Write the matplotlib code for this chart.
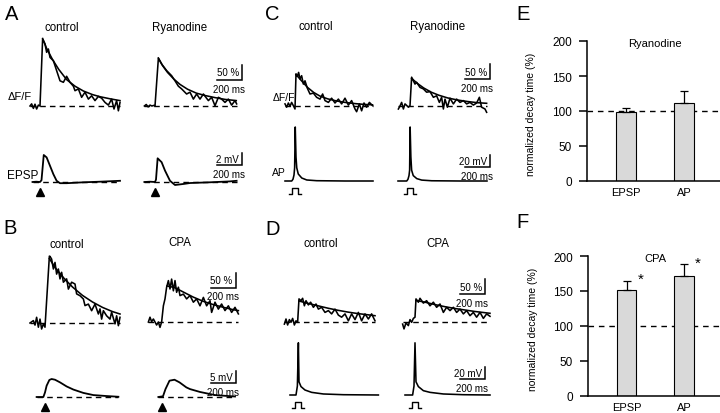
import numpy as np
import matplotlib
matplotlib.use('Agg')
import matplotlib.pyplot as plt

plt.rcParams['font.family'] = ['Liberation Sans', 'DejaVu Sans']

W, H = 720, 414
MS_PER_PX = 8.0
T_MIN, T_MAX = -130, 720

# ---- A: EPSP-evoked transients, control vs ryanodine (dF/F in %, time in ms)
a_ctrl_t = [-80, -67, -53, -40, -27, -13, 0, 21, 40, 53, 67, 80, 107, 133, 160, 187, 213, 240,
            267, 280, 307, 333, 360, 387, 413, 440, 467, 493, 520, 547, 573, 592, 613, 627, 640]
a_ctrl_f = [0, 7, -8, 6, -10, 3, 0, 223, 207, 179, 190, 162, 151, 118, 84, 79, 99, 79,
            66, 51, 57, 29, 46, 23, 34, 18, 32, 26, 12, 3, 23, -10, 18, -16, 12]
a_ctrl_fit_t = [21, 53, 100, 150, 213, 280, 347, 420, 480, 560, 640]
a_ctrl_fit_f = [225, 192, 155, 122, 88, 66, 50, 38, 31, 24, 18]
a_ryan_t = [-85, -70, -55, -40, -25, -10, 0, 27, 53, 93, 133, 160, 187, 213, 253,
            280, 307, 333, 360, 387, 427, 453, 480, 507, 533, 560, 587, 613, 640, 653]
a_ryan_f = [0, 5, -3, 3, 0, 2, 0, 159, 140, 118, 101, 84, 66, 57, 40,
            46, 23, 40, 23, 40, 18, 29, 1, 29, 23, 12, 23, 3, 18, 7]
a_ryan_fit_t = [27, 60, 100, 150, 200, 260, 330, 400, 480, 560, 650]
a_ryan_fit_f = [160, 135, 112, 90, 72, 56, 43, 35, 28, 22, 18]
# EPSPs (mV)
a_ctrl_v_t = [-60, -30, 0, 12, 30, 53, 80, 107, 133, 160, 213, 347, 480, 640]
a_ctrl_v = [0, 0.05, 0, 0.3, 4.5, 4.1, 2.7, 1.3, 0.2, -0.2, -0.2, -0.05, 0.05, 0.2]
a_ryan_v_t = [-85, -40, 0, 8, 21, 53, 80, 120, 160, 227, 280, 440, 600, 653]
a_ryan_v = [0, 0.05, 0, 0.4, 3.95, 3.3, 1.9, 0.2, -0.5, -0.33, -0.17, -0.05, 0.1, 0.2]

# ---- B: EPSP-evoked transients, control vs CPA
b_ctrl_t = [-120, -93, -80, -67, -53, -40, -27, -13, 0, 35, 40, 53, 67, 80, 93, 107, 120, 133,
            147, 173, 187, 213, 240, 253, 280, 307, 320, 347, 373, 400, 427, 440, 453, 467,
            493, 520, 533, 560, 573, 587, 600]
b_ctrl_f = [0, 8, -7, 19, -14, 13, -20, -3, -14, 223, 222, 213, 180, 202, 163, 180, 147, 169,
            136, 147, 113, 136, 130, 97, 91, 80, 58, 63, 41, 63, 30, 47, 13, 41,
            24, 13, 36, -3, 24, -9, 19]
b_ctrl_fit_t = [35, 80, 150, 220, 300, 380, 460, 540, 600]
b_ctrl_fit_f = [215, 185, 150, 120, 92, 70, 52, 38, 30]
b_cpa_t = [-109, -96, -83, -69, -43, -29, -16, -3, 11, 24, 37, 51, 64, 77, 91, 104, 117, 131,
           144, 171, 197, 224, 251, 277, 304, 331, 357, 384, 397, 424, 451, 477, 504, 531,
           557, 584, 611]
b_cpa_f = [0, 16, 1, 10, -10, 0, -18, 0, 54, 77, 116, 138, 110, 143, 104, 138, 99, 116,
           88, 93, 77, 88, 66, 77, 54, 82, 54, 71, 32, 66, 43, 60, 38, 54,
           32, 49, 27]
b_cpa_fit_t = [40, 100, 170, 250, 330, 410, 490, 570, 611]
b_cpa_fit_f = [120, 115, 100, 83, 69, 58, 49, 41, 38]
b_ctrl_v_t = [-67, -13, 0, 13, 35, 53, 80, 120, 173, 227, 307, 387, 493, 587]
b_ctrl_v = [0, 0, 1.9, 4.7, 7.1, 7.5, 7.2, 6.1, 4.4, 3.1, 1.7, 0.8, 0.4, 0.1]
b_cpa_v_t = [-29, 8, 28, 60, 100, 140, 195, 224, 304, 424, 584]
b_cpa_v = [0, 0.3, 3.3, 6.8, 7.2, 6.1, 4.0, 3.3, 2.1, 0.8, 0.2]

# ---- C: AP-evoked transients, control vs ryanodine
c_ctrl_t = [-80, -67, -53, -40, -27, -13, 0, 8, 19, 29, 40, 53, 67, 80, 99, 120, 147,
            173, 200, 221, 240, 267, 293, 320, 347, 373, 400, 427, 453, 480, 493, 515,
            533, 552, 573, 595, 621]
c_ctrl_f = [7, -4, 10, -1, 12, 1, -10, 107, 99, 112, 90, 101, 73, 84, 59, 40, 43,
            29, 23, 40, 18, 12, 26, 10, 23, 7, 26, 3, 18, -10, -19, 7,
            -16, 10, -4, 12, 1]
c_ctrl_fit_t = [8, 50, 100, 150, 200, 260, 330, 400, 480, 560, 620]
c_ctrl_fit_f = [105, 85, 62, 45, 33, 24, 17, 12, 8, 5, 4]
c_ryan_t = [-93, -80, -67, -53, -40, -27, -13, 0, 13, 27, 40, 53, 80, 107, 133, 160, 187,
            213, 235, 253, 267, 280, 299, 320, 347, 373, 400, 427, 453, 480, 507, 533,
            555, 573, 600, 613]
c_ryan_f = [-10, 0, 12, -10, 7, 2, -4, 1, 96, 84, 73, 79, 62, 57, 46, 48, 29,
            34, 12, 29, -10, 23, -4, 26, 7, 23, 12, 18, 7, 12, 3, 10,
            29, -4, -10, -21]
c_ryan_fit_t = [13, 60, 110, 170, 230, 300, 380, 460, 540, 613]
c_ryan_fit_f = [92, 75, 60, 46, 36, 27, 20, 15, 11, 9]
c_ctrl_v_t = [-80, -26, -16, -8, -3, 2, 8, 14, 26, 54, 94, 174, 400, 624]
c_ctrl_v = [0, 0, 3, 10, 22, 90, 40, 22, 11.7, 5, 1.7, 0.5, 0, 0]
c_ryan_v_t = [-96, -26, -16, -8, -3, 1, 7, 13, 26, 54, 94, 174, 400, 616]
c_ryan_v = [0, 0, 3, 9, 18, 90, 40, 18, 9, 4, 1.5, 0.4, 0, 0]

# ---- D: AP-evoked transients, control vs CPA
d_ctrl_t = [-109, -96, -83, -69, -56, -43, -29, -16, -3, 8, 24, 37, 51, 64, 83, 101, 123, 144,
            163, 189, 216, 243, 269, 296, 323, 349, 376, 403, 429, 456, 483, 509, 536, 563,
            589, 616]
d_ctrl_f = [-7, 10, -10, 8, -1, 12, -10, 4, -1, 77, 71, 79, 54, 71, 57, 66, 49, 60,
            43, 49, 32, 38, 27, 43, 23, 16, 27, 4, 27, 8, 32, 4, 27, 10,
            27, 4]
d_ctrl_fit_t = [8, 80, 160, 240, 320, 400, 480, 560, 616]
d_ctrl_fit_f = [70, 62, 54, 46, 39, 33, 28, 24, 21]
d_cpa_t = [-99, -88, -72, -53, -40, -27, -13, 0, 8, 27, 40, 67, 93, 120, 147, 173, 200, 227,
           253, 280, 307, 333, 360, 387, 413, 440, 467, 493, 520, 547, 573, 600]
d_cpa_f = [-7, -23, -3, -12, 8, -1, 12, 16, 77, 66, 79, 63, 71, 54, 66, 49, 60, 32,
           49, 38, 49, 32, 43, 27, 38, 21, 32, 16, 32, 12, 27, 19]
d_cpa_fit_t = [8, 80, 160, 240, 320, 400, 480, 560, 600]
d_cpa_fit_f = [72, 66, 58, 51, 45, 40, 35, 31, 29]
d_ctrl_v_t = [-64, -16, -5, 3, 8, 24, 56, 109, 203, 363, 643]
d_ctrl_v = [0, 0, 15, 87, 22, 14, 8.3, 4.4, 1.7, 0.5, 0]
d_cpa_v_t = [-80, -19, -8, 0, 8, 27, 67, 120, 227, 387, 600]
d_cpa_v = [0, 0, 15, 87, 22, 14, 7.2, 4.4, 1.7, 0.5, 0]

# current step under the APs
step_t = [-45, -22, -22, 22, 22, 45]
step_v = [-21, -21, -11, -11, -21, -21]

# ---- E / F: normalized decay times (%)
categories = ['EPSP', 'AP']
ryan_mean = [98, 112]
ryan_err = [6, 16]
cpa_mean = [151, 172]
cpa_err = [14, 16]

LW = 1.15

fig = plt.figure(figsize=(W / 100, H / 100), dpi=100)


def px_axes(x0, y0, x1, y1):
    return fig.add_axes([x0 / W, 1 - y1 / H, (x1 - x0) / W, (y1 - y0) / H])


def trace_axes(stim_px, base_py, ylo, yhi, ppu):
    ax = px_axes(stim_px + T_MIN / MS_PER_PX, base_py - yhi * ppu,
                 stim_px + T_MAX / MS_PER_PX, base_py - ylo * ppu)
    ax.set_xlim(T_MIN, T_MAX)
    ax.set_ylim(ylo, yhi)
    ax.axis('off')
    return ax


def fluor(stim_px, base_py, t, f, fit_t, fit_f):
    ax = trace_axes(stim_px, base_py, -50, 260, 0.3)
    ax.plot([t[0], t[-1]], [0, 0], color='k', lw=1, dashes=(4, 3))
    ax.plot(t, f, color='k', lw=LW)
    ax.plot(fit_t, fit_f, color='k', lw=LW)
    return ax


def psp(stim_px, base_py, ppu, ylo, yhi, t, v, arrow_y):
    ax = trace_axes(stim_px, base_py, ylo, yhi, ppu)
    ax.plot([t[0], t[-1]], [0, 0], color='k', lw=1, dashes=(4, 3))
    ax.plot(t, v, color='k', lw=1.3)
    ax.plot([0], [arrow_y], marker='^', color='k', ms=5.5, clip_on=False)
    return ax


def ap(stim_px, base_py, t, v):
    ax = trace_axes(stim_px, base_py, -30, 100, 0.6)
    ax.plot(t, v, color='k', lw=LW)
    ax.plot(step_t, step_v, color='k', lw=1)
    return ax


def scale_bar(ax, x_end, y0, dy, ppu, label):
    ax.plot([x_end - 200, x_end, x_end], [y0, y0, y0 + dy], color='k', lw=1.1,
            clip_on=False, solid_joinstyle='miter')
    ax.text(x_end - 24, y0 + dy * 0.5, label, ha='right', va='center', fontsize=7)
    ax.text(x_end + 24, y0 - 9 / ppu, '200 ms', ha='right', va='center', fontsize=7)


def label(x, y, s, size, ha='center'):
    fig.text(x / W, 1 - y / H, s, fontsize=size, ha=ha, va='center')


# panel A
fluor(40, 107, a_ctrl_t, a_ctrl_f, a_ctrl_fit_t, a_ctrl_fit_f)
ax = fluor(155, 107, a_ryan_t, a_ryan_f, a_ryan_fit_t, a_ryan_fit_f)
scale_bar(ax, 696, 87, 50, 0.3, '50 %')
psp(40, 183, 6, -3, 6, a_ctrl_v_t, a_ctrl_v, -1.7)
ax = psp(155, 183, 6, -3, 6, a_ryan_v_t, a_ryan_v, -1.7)
scale_bar(ax, 696, 2.8, 2, 6, '2 mV')

# panel B
fluor(45, 324, b_ctrl_t, b_ctrl_f, b_ctrl_fit_t, b_ctrl_fit_f)
ax = fluor(162, 323, b_cpa_t, b_cpa_f, b_cpa_fit_t, b_cpa_fit_f)
scale_bar(ax, 590, 115, 50, 0.3, '50 %')
psp(45, 398, 2.4, -7, 12, b_ctrl_v_t, b_ctrl_v, -4.2)
ax = psp(162, 398, 2.4, -7, 12, b_cpa_v_t, b_cpa_v, -4.2)
scale_bar(ax, 592, 5.8, 5, 2.4, '5 mV')

# panel C
fluor(295, 107, c_ctrl_t, c_ctrl_f, c_ctrl_fit_t, c_ctrl_fit_f)
ax = fluor(410, 107, c_ryan_t, c_ryan_f, c_ryan_fit_t, c_ryan_fit_f)
scale_bar(ax, 640, 90, 50, 0.3, '50 %')
ap(295, 182, c_ctrl_v_t, c_ctrl_v)
ax = ap(410, 182, c_ryan_v_t, c_ryan_v)
scale_bar(ax, 640, 23, 20, 0.6, '20 mV')

# panel D
fluor(298, 323, d_ctrl_t, d_ctrl_f, d_ctrl_fit_t, d_ctrl_fit_f)
ax = fluor(415, 323, d_cpa_t, d_cpa_f, d_cpa_fit_t, d_cpa_fit_f)
scale_bar(ax, 560, 93, 50, 0.3, '50 %')
ap(298, 396, d_ctrl_v_t, d_ctrl_v)
ax = ap(415, 396, d_cpa_v_t, d_cpa_v)
scale_bar(ax, 560, 26.7, 20, 0.6, '20 mV')

# texts of the trace panels
for x, y, s in [(5, 15, 'A'), (3, 229, 'B'), (265, 15, 'C'), (265, 230, 'D'),
                (516, 15, 'E'), (516, 223, 'F')]:
    label(x, y, s, 14.5, ha='left')
for x, y, s in [(62, 28, 'control'), (180, 28, 'Ryanodine'), (316, 27, 'control'),
                (438, 27, 'Ryanodine'), (67, 245, 'control'), (180, 243, 'CPA'),
                (321, 244, 'control'), (438, 244, 'CPA')]:
    label(x, y, s, 8.3)
label(8, 97, 'ΔF/F', 8, ha='left')
label(7, 176, 'EPSP', 8.5, ha='left')
label(273, 98, 'ΔF/F', 7.5, ha='left')
label(272, 173, 'AP', 7.5, ha='left')


def bar_panel(ax, means, errs, title, stars):
    x = np.arange(len(categories))
    ax.set_xlim(-0.67, 1.62)
    ax.set_ylim(0, 200)
    ax.axhline(100, color='k', lw=1, dashes=(4, 3.5), zorder=1)
    ax.bar(x, means, width=0.34, color='#d9d9d9', edgecolor='k', lw=0.8, zorder=2)
    ax.errorbar(x, means, yerr=[np.zeros(len(errs)), errs], fmt='none', ecolor='k',
                elinewidth=0.9, capsize=3, capthick=0.9, zorder=3)
    for s in ['top', 'right']:
        ax.spines[s].set_visible(False)
    ax.spines['left'].set_linewidth(1.1)
    ax.spines['bottom'].set_linewidth(1.1)
    ax.set_yticks([0, 50, 100, 150, 200])
    ax.tick_params(axis='y', direction='out', length=6, width=1.1, labelsize=8.5, pad=5)
    ax.set_xticks(x)
    ax.set_xticklabels(categories)
    ax.tick_params(axis='x', length=0, labelsize=8, pad=4)
    ax.set_ylabel('normalized decay time (%)', fontsize=7.5)
    ax.yaxis.set_label_coords(-0.38, 0.48)
    ax.text(0.5, 197, title, ha='center', va='center', fontsize=8)
    if stars:
        for xi, m, e in zip(x, means, errs):
            ax.text(xi + 0.24, m + e + 2, '*', ha='center', va='center', fontsize=11)


bar_panel(px_axes(587, 42, 720, 182), ryan_mean, ryan_err, 'Ryanodine', False)
bar_panel(px_axes(588, 257, 720, 397), cpa_mean, cpa_err, 'CPA', True)

fig.savefig('out.png', dpi=100)
